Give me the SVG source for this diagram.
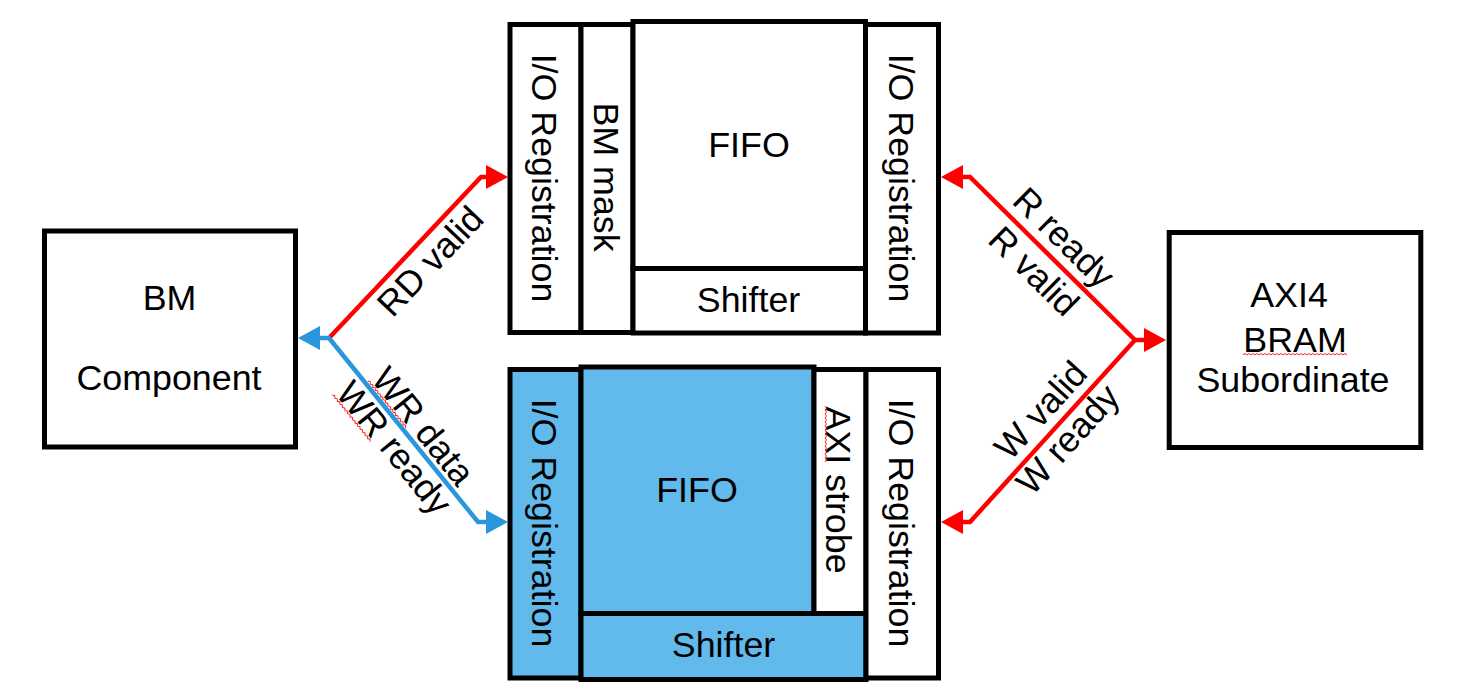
<svg xmlns="http://www.w3.org/2000/svg" width="1460" height="693" viewBox="0 0 1460 693">
  <style>
    .box { fill: #ffffff; stroke: #000000; stroke-width: 5; stroke-linejoin: miter; }
    .blue { fill: #62b9ec; }
    .lbl { font-family: "Liberation Sans", Arial, sans-serif; font-size: 35.8px; fill: #000000; text-anchor: middle; }
    .red { fill: none; stroke: #ff0000; stroke-width: 4.5; stroke-linejoin: miter; }
    .bl { fill: none; stroke: #2a96dc; stroke-width: 4.5; stroke-linejoin: miter; }
    .wave { fill: none; stroke: #ff2020; stroke-width: 1; }
  </style>
  <defs>
    <marker id="arrRed" markerUnits="userSpaceOnUse" markerWidth="23" markerHeight="24" refX="1" refY="12" orient="auto" overflow="visible">
      <path d="M0,0 L22,12 L0,24 Z" fill="#ff0000"/>
    </marker>
    <marker id="arrBlue" markerUnits="userSpaceOnUse" markerWidth="23" markerHeight="24" refX="1" refY="12" orient="auto" overflow="visible">
      <path d="M0,0 L22,12 L0,24 Z" fill="#2a96dc"/>
    </marker>
  </defs>

  <rect width="1460" height="693" fill="#ffffff"/>

  <g id="bm-component">
    <rect class="box" x="44.5" y="231" width="251" height="216"/>
    <text class="lbl" x="169.5" y="310">BM</text>
    <text class="lbl" x="169" y="390">Component</text>
  </g>

  <g id="axi4-bram-subordinate">
    <rect class="box" x="1169.2" y="232.5" width="251.6" height="215"/>
    <text class="lbl" x="1289" y="306.7">AXI4</text>
    <text class="lbl" x="1295" y="351.7">BRAM</text>
    <text class="lbl" x="1293" y="391.7">Subordinate</text>
  </g>

  <!-- Top block -->
  <g id="top-io-left">
    <rect class="box" x="510" y="24.5" width="71" height="308"/>
    <text class="lbl" transform="translate(545,178) rotate(90)" dy=".35em">I/O Registration</text>
  </g>
  <g id="top-bm-mask">
    <rect class="box" x="581" y="24.5" width="52" height="308"/>
    <text class="lbl" transform="translate(607,177) rotate(90)" dy=".35em">BM mask</text>
  </g>
  <g id="top-fifo">
    <rect class="box" x="633" y="21.5" width="232.5" height="247"/>
    <text class="lbl" x="749" y="156.7">FIFO</text>
  </g>
  <g id="top-shifter">
    <rect class="box" x="633" y="268.5" width="232.5" height="64.5"/>
    <text class="lbl" x="748.5" y="311.7">Shifter</text>
  </g>
  <g id="top-io-right">
    <rect class="box" x="865.5" y="24.5" width="73" height="308.5"/>
    <text class="lbl" transform="translate(902,178) rotate(90)" dy=".35em">I/O Registration</text>
  </g>

  <!-- Bottom block -->
  <g id="bottom-io-left">
    <rect class="box blue" x="510" y="369.5" width="71" height="308.5"/>
    <text class="lbl" transform="translate(545,523) rotate(90)" dy=".35em">I/O Registration</text>
  </g>
  <g id="bottom-fifo">
    <rect class="box blue" x="581" y="367" width="233" height="246.5"/>
    <text class="lbl" x="697" y="502.3">FIFO</text>
  </g>
  <g id="bottom-axi-strobe">
    <rect class="box" x="814" y="369.5" width="52" height="244"/>
    <text class="lbl" transform="translate(839,490) rotate(90)" dy=".35em">AXI strobe</text>
  </g>
  <g id="bottom-shifter">
    <rect class="box blue" x="581" y="613.5" width="285" height="66"/>
    <text class="lbl" x="723.5" y="656.7">Shifter</text>
  </g>
  <g id="bottom-io-right">
    <rect class="box" x="866" y="369.5" width="72.5" height="308.5"/>
    <text class="lbl" transform="translate(902,523) rotate(90)" dy=".35em">I/O Registration</text>
  </g>

  <g id="connectors">
    <path class="red" d="M330,337 L481,177 L487,177" marker-end="url(#arrRed)"/>
    <path class="bl" d="M329,338 L478,522 L487,522" marker-end="url(#arrBlue)"/>
    <path class="bl" d="M330,338 L319,338" marker-end="url(#arrBlue)"/>
    <path class="red" d="M1135,340 L970,177 L962,177" marker-end="url(#arrRed)"/>
    <path class="red" d="M1135,340 L970,522 L962,522" marker-end="url(#arrRed)"/>
    <path class="red" d="M1134,340 L1145,340" marker-end="url(#arrRed)"/>
  </g>

  <g id="connector-labels">
    <text class="lbl" transform="translate(430,261) rotate(-46.5)" dy=".35em">RD valid</text>
    <g transform="translate(423.5,426) rotate(51)">
      <text class="lbl" dy=".35em">WR data</text>
      <path class="wave" d="M-70,15 l2,-1.5 l2,1.5 l2,-1.5 l2,1.5 l2,-1.5 l2,1.5 l2,-1.5 l2,1.5 l2,-1.5 l2,1.5 l2,-1.5 l2,1.5 l2,-1.5 l2,1.5 l2,-1.5 l2,1.5 l2,-1.5 l2,1.5 l2,-1.5 l2,1.5 l2,-1.5 l2,1.5 l2,-1.5 l2,1.5 l2,-1.5 l2,1.5 l2,-1.5 l2,1.5 l2,-1.5 l2,1.5"/>
    </g>
    <g transform="translate(394.4,447.8) rotate(51)">
      <text class="lbl" dy=".35em">WR ready</text>
      <path class="wave" d="M-80,15 l2,-1.5 l2,1.5 l2,-1.5 l2,1.5 l2,-1.5 l2,1.5 l2,-1.5 l2,1.5 l2,-1.5 l2,1.5 l2,-1.5 l2,1.5 l2,-1.5 l2,1.5 l2,-1.5 l2,1.5 l2,-1.5 l2,1.5 l2,-1.5 l2,1.5 l2,-1.5 l2,1.5 l2,-1.5 l2,1.5 l2,-1.5 l2,1.5 l2,-1.5 l2,1.5 l2,-1.5 l2,1.5"/>
    </g>
    <text class="lbl" transform="translate(1064.2,237.5) rotate(44.6)" dy=".35em">R ready</text>
    <text class="lbl" transform="translate(1034,271) rotate(44.6)" dy=".35em">R valid</text>
    <text class="lbl" transform="translate(1040.5,410) rotate(-47.8)" dy=".35em">W valid</text>
    <text class="lbl" transform="translate(1067.4,439.3) rotate(-47.8)" dy=".35em">W ready</text>
  </g>

  <g id="spellcheck-marks">
    <path class="wave" d="M1243,355 l2,-1.5 l2,1.5 l2,-1.5 l2,1.5 l2,-1.5 l2,1.5 l2,-1.5 l2,1.5 l2,-1.5 l2,1.5 l2,-1.5 l2,1.5 l2,-1.5 l2,1.5 l2,-1.5 l2,1.5 l2,-1.5 l2,1.5 l2,-1.5 l2,1.5 l2,-1.5 l2,1.5 l2,-1.5 l2,1.5 l2,-1.5 l2,1.5 l2,-1.5 l2,1.5 l2,-1.5 l2,1.5 l2,-1.5 l2,1.5 l2,-1.5 l2,1.5 l2,-1.5 l2,1.5 l2,-1.5 l2,1.5 l2,-1.5 l2,1.5 l2,-1.5 l2,1.5 l2,-1.5 l2,1.5 l2,-1.5 l2,1.5 l2,-1.5 l2,1.5 l2,-1.5 l2,1.5 l2,-1.5 l2,1.5"/>
    <path class="wave" transform="translate(839,490) rotate(90)" d="M-84,14 l2,-1.5 l2,1.5 l2,-1.5 l2,1.5 l2,-1.5 l2,1.5 l2,-1.5 l2,1.5 l2,-1.5 l2,1.5 l2,-1.5 l2,1.5 l2,-1.5 l2,1.5 l2,-1.5 l2,1.5 l2,-1.5 l2,1.5 l2,-1.5 l2,1.5 l2,-1.5 l2,1.5 l2,-1.5 l2,1.5 l2,-1.5 l2,1.5 l2,-1.5 l2,1.5"/>
  </g>
</svg>
